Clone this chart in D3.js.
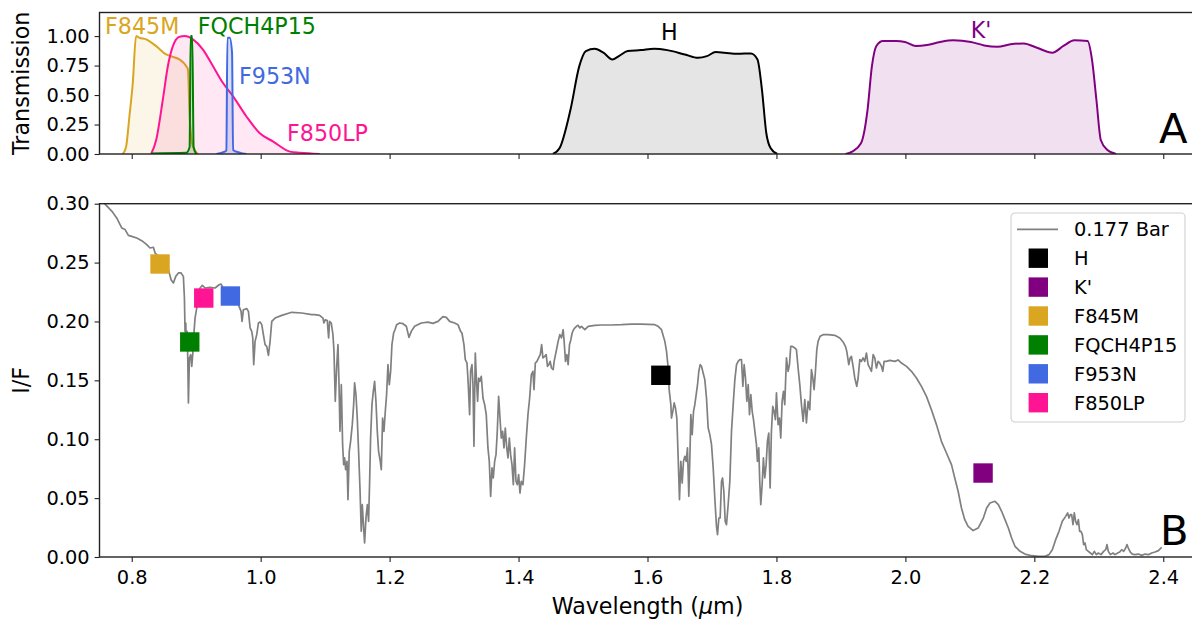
<!DOCTYPE html>
<html>
<head>
<meta charset="utf-8">
<script src="https://cdn.jsdelivr.net/npm/d3@7"></script>
<style>
  body { margin: 0; background: #fff; }
  svg { display: block; font-family: "DejaVu Sans", sans-serif; }
</style>
</head>
<body>
<svg id="chart"></svg>
<script>
// ---- data ----
const xTicks = [0.8, 1.0, 1.2, 1.4, 1.6, 1.8, 2.0, 2.2, 2.4];
const topTicks = [0, 0.25, 0.5, 0.75, 1.0];
const botTicks = [0, 0.05, 0.10, 0.15, 0.20, 0.25, 0.30];

const filterNames = ["H", "K'", "F845M", "FQCH4P15", "F953N", "F850LP"];
const filterColors = ["black", "purple", "goldenrod", "green", "royalblue", "deeppink"];

// filter transmission curves [wavelength, transmission]
const curveF845M = [[0.786,0],[0.7912,0.06],[0.7964,0.32],[0.8016,0.6],[0.8067,1.0],[0.8119,0.986],[0.8223,0.972],
  [0.8379,0.915],[0.8534,0.844],[0.8638,0.824],[0.8742,0.801],[0.8846,0.744],[0.8872,0.716],[0.8898,0.318],
  [0.8949,0.062],[0.9027,0]];
const curveF850LP = [[0.8301,0],[0.8379,0.119],[0.8482,0.46],[0.856,0.744],[0.8638,0.915],[0.8742,0.995],
  [0.882,1.0],[0.8949,0.972],[0.9105,0.886],[0.9261,0.744],[0.9416,0.602],[0.9572,0.489],[0.978,0.318],
  [0.9987,0.176],[1.0195,0.105],[1.0454,0.02],[1.061,0.01],[1.0921,0]];
const curveFQCH4P15 = [[0.83,0.005],[0.8846,0.01],[0.8898,0.06],[0.8913,1.0],[0.8939,1.0],[0.896,0.06],[0.9001,0]];
const curveF953N = [[0.9313,0],[0.9442,0.02],[0.9468,0.03],[0.9484,0.986],[0.952,0.986],[0.9556,0.858],
  [0.9572,0.034],[0.9676,0.011],[0.978,0]];
const curveH = [[1.4532,0],[1.4635,0.048],[1.4805,0.375],[1.4942,0.745],[1.5044,0.873],[1.5181,0.893],
  [1.5317,0.859],[1.5454,0.802],[1.5556,0.83],[1.5693,0.873],[1.5898,0.881],[1.6102,0.893],[1.6307,0.881],
  [1.658,0.844],[1.6785,0.816],[1.6922,0.83],[1.7058,0.864],[1.7195,0.859],[1.74,0.85],[1.7604,0.853],
  [1.7706,0.802],[1.7775,0.546],[1.7843,0.176],[1.7911,0.048],[1.8014,0]];
const curveK = [[1.9072,0],[1.9174,0.02],[1.9311,0.091],[1.9413,0.375],[1.9481,0.745],[1.955,0.916],
  [1.9652,0.958],[1.9857,0.958],[1.9993,0.95],[2.0164,0.916],[2.0334,0.924],[2.0539,0.95],[2.0744,0.964],
  [2.1017,0.95],[2.1222,0.921],[2.1427,0.91],[2.1631,0.93],[2.1836,0.938],[2.2041,0.901],[2.228,0.859],
  [2.2451,0.916],[2.2621,0.964],[2.2826,0.958],[2.2894,0.802],[2.2963,0.46],[2.3031,0.119],[2.3133,0.034],[2.327,0]];

// label positions (wavelength, transmission) for the filter names in panel A
const labelWave = [1.6337, 2.1174, 0.7586, 0.9024, 0.9664, 1.0409];
const labelTrans = [0.966, 0.983, 1.017, 1.017, 0.593, 0.113];
const labelAnchor = ["middle", "middle", "start", "start", "start", "start"];

// reflectance spectrum at 0.177 bar [wavelength, I/F]
const spectrum = [[0.750,0.3035],[0.7586,0.2997],[0.769,0.2937],[0.7767,0.2879],[0.7819,0.2822],[0.7845,0.2794],
  [0.7897,0.278],[0.7948,0.2731],[0.8,0.2723],[0.8078,0.2709],[0.8155,0.2686],[0.8233,0.2652],[0.8284,0.2624],
  [0.8336,0.263],[0.8362,0.2581],[0.8414,0.2553],[0.8491,0.2496],[0.8569,0.244],[0.861,0.2355],[0.8646,0.2327],
  [0.8683,0.2383],[0.8724,0.2412],[0.8765,0.2412],[0.8801,0.2383],[0.8817,0.2199],[0.8827,0.1916],[0.8838,0.1987],
  [0.8848,0.1775],[0.8858,0.1916],[0.8869,0.169],[0.8879,0.1308],[0.8895,0.169],[0.8915,0.1718],[0.8931,0.1619],
  [0.8946,0.1718],[0.8967,0.1916],[0.8982,0.2029],[0.9008,0.2114],[0.9034,0.2242],[0.906,0.2284],[0.9096,0.2307],
  [0.9138,0.2284],[0.9215,0.229],[0.9293,0.2284],[0.9355,0.2312],[0.9386,0.2318],[0.9412,0.229],[0.9474,0.2284],
  [0.9603,0.2228],[0.9665,0.2128],[0.9696,0.2086],[0.9711,0.2001],[0.9732,0.21],[0.9784,0.2109],[0.981,0.2086],
  [0.9836,0.1945],[0.9861,0.1916],[0.9877,0.186],[0.9892,0.1633],[0.9913,0.1831],[0.9939,0.1888],[0.9965,0.1987],
  [0.9991,0.1995],[1.0017,0.1973],[1.0042,0.1888],[1.0068,0.1803],[1.0094,0.1789],[1.012,0.1712],[1.0146,0.1831],
  [1.0172,0.2001],[1.0223,0.2029],[1.0327,0.2052],[1.0482,0.2078],[1.0637,0.2072],[1.0792,0.2058],
  [1.0837,0.2058],[1.0914,0.2052],[1.0966,0.2029],[1.0981,0.1987],[1.1002,0.2015],[1.1033,0.2007],[1.1054,0.186],
  [1.1069,0.2001],[1.1095,0.1987],[1.1121,0.1888],[1.1137,0.1746],[1.1157,0.1322],[1.1178,0.1605],[1.1199,0.1803],
  [1.1214,0.1492],[1.123,0.1067],[1.1251,0.1463],[1.1271,0.0954],[1.1287,0.0784],[1.1302,0.0841],[1.1318,0.0742],
  [1.1339,0.0812],[1.1354,0.0487],[1.1374,0.0897],[1.1395,0.0982],[1.1421,0.1124],[1.1442,0.1294],[1.1457,0.1478],
  [1.1478,0.1378],[1.1498,0.118],[1.1519,0.0897],[1.154,0.0586],[1.156,0.0218],[1.1576,0.0444],[1.1597,0.0246],
  [1.1612,0.0119],[1.1633,0.0331],[1.1654,0.0444],[1.1674,0.0303],[1.169,0.0643],[1.1705,0.101],[1.1726,0.1294],
  [1.1747,0.1407],[1.1767,0.1492],[1.1788,0.1322],[1.1809,0.1067],[1.1829,0.0897],[1.1855,0.0812],[1.1871,0.0742],
  [1.1891,0.118],[1.1912,0.1067],[1.1933,0.1237],[1.1953,0.1378],[1.1974,0.1633],[1.1995,0.1463],[1.2016,0.1577],
  [1.2036,0.1803],[1.2062,0.1902],[1.2083,0.193],[1.2109,0.1973],[1.2155,0.1987],[1.2207,0.1981],[1.2259,0.1959],
  [1.23,0.1865],[1.2336,0.1916],[1.2388,0.1959],[1.2491,0.1987],[1.2595,0.1995],[1.2672,0.1984],[1.275,0.2001],
  [1.2827,0.2041],[1.2879,0.2035],[1.2931,0.2001],[1.3008,0.1987],[1.306,0.1973],[1.3101,0.1916],[1.3122,0.1902],
  [1.3153,0.1803],[1.3174,0.1676],[1.32,0.1647],[1.322,0.1463],[1.3241,0.1209],[1.3256,0.1577],[1.3277,0.1633],
  [1.3293,0.1463],[1.3308,0.094],[1.3329,0.1732],[1.3344,0.1534],[1.3365,0.1322],[1.3381,0.152],[1.3401,0.1492],
  [1.3422,0.1534],[1.3448,0.135],[1.3474,0.1294],[1.3499,0.1209],[1.3525,0.0926],[1.3546,0.0812],[1.3567,0.0515],
  [1.3588,0.0756],[1.3608,0.0671],[1.3629,0.0812],[1.365,0.0869],[1.367,0.1067],[1.3691,0.1364],[1.3712,0.118],
  [1.3732,0.101],[1.3753,0.1067],[1.3774,0.0926],[1.3794,0.1095],[1.3815,0.094],[1.3836,0.0841],[1.3857,0.101],
  [1.3877,0.0869],[1.3898,0.0784],[1.3919,0.0614],[1.3939,0.0926],[1.396,0.0643],[1.3981,0.0614],[1.4001,0.0699],
  [1.4022,0.0543],[1.4042,0.0643],[1.4068,0.0614],[1.4094,0.0784],[1.412,0.101],[1.4146,0.1209],[1.4172,0.135],
  [1.4198,0.1548],[1.4223,0.1577],[1.4239,0.1421],[1.426,0.1647],[1.4285,0.1661],[1.4311,0.169],[1.4337,0.1718],
  [1.4358,0.1803],[1.4378,0.169],[1.4404,0.1704],
  [1.4428,0.1718],[1.4449,0.1619],[1.4469,0.1633],[1.449,0.1661],[1.4511,0.1605],[1.4537,0.1591],[1.4552,0.1661],
  [1.4573,0.1718],[1.4594,0.1775],[1.4614,0.1831],[1.464,0.1888],[1.4666,0.186],[1.4692,0.193],[1.4707,0.1831],
  [1.4728,0.1661],[1.4749,0.1718],[1.4769,0.1633],[1.479,0.1803],[1.4811,0.1845],[1.4831,0.1902],[1.4852,0.193],
  [1.4873,0.1945],[1.4899,0.1959],[1.4924,0.1967],[1.495,0.1945],[1.4976,0.1959],[1.5028,0.193],[1.508,0.1959],
  [1.5183,0.1967],[1.5286,0.197],[1.5442,0.197],[1.5597,0.1973],[1.5752,0.1978],[1.5907,0.1978],[1.6114,0.1973],
  [1.6165,0.1959],[1.6217,0.193],[1.6269,0.1831],[1.6295,0.1746],[1.6321,0.1605],[1.6336,0.1421],[1.6362,0.1294],
  [1.6372,0.118],[1.6393,0.1237],[1.6414,0.1308],[1.6434,0.1265],[1.6455,0.118],[1.6476,0.0841],[1.6496,0.0487],
  [1.6517,0.0812],[1.6538,0.0628],[1.6558,0.0812],[1.6579,0.0855],[1.66,0.0812],[1.662,0.0926],[1.6641,0.0515],
  [1.6657,0.0841],[1.6672,0.1209],[1.6693,0.1039],[1.6714,0.1237],[1.6734,0.1294],[1.6755,0.1378],[1.6776,0.1463],
  [1.6796,0.1577],[1.6817,0.1633],[1.6838,0.1619],[1.6863,0.1562],[1.6889,0.1506],[1.6915,0.135],[1.6941,0.1095],
  [1.6967,0.1039],[1.6993,0.0954],[1.7019,0.0756],[1.7044,0.0501],[1.707,0.026],[1.7086,0.019],[1.7107,0.0331],
  [1.7127,0.0331],[1.7148,0.0643],[1.7164,0.0671],[1.7184,0.0558],[1.7205,0.0303],[1.7225,0.0275],[1.7251,0.0444],
  [1.7277,0.0643],[1.7303,0.1067],[1.7329,0.1294],[1.7355,0.1506],[1.7381,0.1633],[1.7406,0.1661],[1.7432,0.1676],
  [1.7458,0.1676],[1.7479,0.1449],[1.7499,0.1633],[1.752,0.152],[1.7541,0.1322],[1.7562,0.1463],[1.7582,0.1209],
  [1.7603,0.1378],[1.7624,0.1237],[1.7644,0.1166],
  [1.769,0.0954],[1.7705,0.0812],[1.7726,0.0926],[1.7741,0.0643],[1.7757,0.0444],[1.7778,0.0614],[1.7798,0.0841],
  [1.7819,0.0671],[1.784,0.0784],[1.786,0.0982],[1.7881,0.1053],[1.7902,0.0586],[1.7922,0.1067],[1.7943,0.1279],
  [1.7964,0.1237],[1.7984,0.1166],[1.8,0.1393],[1.8026,0.1124],[1.8047,0.118],[1.8067,0.101],[1.8088,0.1322],
  [1.8109,0.1407],[1.8129,0.1294],[1.8155,0.169],[1.8181,0.1577],[1.8202,0.1633],[1.8222,0.1789],[1.8243,0.1789],
  [1.8284,0.1775],[1.831,0.1761],[1.8336,0.1605],[1.8362,0.1463],[1.8388,0.1294],[1.8414,0.1152],[1.844,0.1336],
  [1.8465,0.1138],[1.8491,0.1322],[1.8517,0.1251],[1.8543,0.1591],[1.8564,0.152],[1.8584,0.1421],[1.8605,0.1577],
  [1.8626,0.1761],[1.8646,0.1831],[1.8677,0.1874],[1.8724,0.1888],[1.8801,0.1888],[1.8905,0.1882],[1.8982,0.186],
  [1.9034,0.1826],[1.907,0.1789],[1.9091,0.1746],[1.9122,0.1633],[1.9143,0.169],[1.9163,0.1704],[1.9189,0.1619],
  [1.9215,0.152],[1.9246,0.1449],[1.9267,0.152],[1.9293,0.1676],[1.9318,0.1661],[1.9344,0.169],[1.937,0.1661],
  [1.9396,0.1732],[1.9422,0.1633],[1.9448,0.1605],[1.9474,0.1577],[1.95,0.1718],[1.9525,0.169],[1.9551,0.1605],
  [1.9577,0.1661],[1.9603,0.1647],[1.9629,0.1619],[1.9649,0.1577],[1.967,0.1661],[1.9706,0.1661],[1.9758,0.167],
  [1.9836,0.1661],[1.9887,0.1673],[1.9939,0.1647],[2.0017,0.1619],[2.0094,0.1577],[2.0172,0.152],[2.0249,0.1449],
  [2.0327,0.1364],[2.0404,0.1251],[2.0482,0.1124],[2.0559,0.0982],[2.0637,0.0883],[2.0715,0.0784],[2.0766,0.0671],
  [2.0818,0.0558],[2.087,0.0416],[2.0921,0.0317],[2.0973,0.026],[2.1051,0.0224],[2.1128,0.0246],
  [2.1209,0.0331],[2.1261,0.0416],[2.1312,0.0459],[2.139,0.0473],[2.1442,0.0444],[2.1493,0.0388],[2.1545,0.0317],
  [2.1597,0.0246],[2.1648,0.0161],[2.17,0.0091],[2.1778,0.0048],[2.1855,0.0025],[2.1959,0.0011],[2.2062,0.0006],
  [2.2165,0.0006],[2.2228,0.002],[2.2279,0.0062],[2.2331,0.0147],[2.2383,0.0218],[2.2434,0.0303],[2.2486,0.0345],
  [2.2517,0.0374],[2.2538,0.0331],[2.2558,0.0359],[2.2579,0.0359],[2.26,0.0275],[2.262,0.0374],[2.2641,0.0303],
  [2.2662,0.0275],[2.2683,0.0317],[2.2703,0.0218],[2.2724,0.0218],[2.2745,0.019],[2.2765,0.0105],[2.2786,0.0119],
  [2.2807,0.0062],[2.2838,0.0048],[2.2869,0.0034],[2.29,0.002],[2.2931,0.0048],[2.2962,0.002],[2.2993,0.0034],
  [2.3034,0.002],[2.3075,0.0048],[2.3107,0.0062],[2.3127,0.0105],[2.3148,0.0048],[2.3179,0.002],[2.322,0.0034],
  [2.3251,0.002],[2.3293,0.0034],[2.3324,0.0042],[2.3355,0.0062],[2.3386,0.0048],[2.3417,0.0076],[2.3437,0.0105],
  [2.3458,0.0076],[2.3489,0.0042],[2.352,0.0025],[2.3562,0.002],[2.3613,0.0025],[2.3665,0.0014],[2.3717,0.0025],
  [2.3769,0.002],[2.382,0.0034],[2.3872,0.0042],[2.3924,0.0054],[2.3975,0.0082]];

// filter-averaged I/F markers (same order as filterNames)
const markerWave = [1.6207, 2.1205, 0.8439, 0.8900, 0.9530, 0.9117];
const markerIF = [0.1543, 0.0713, 0.2488, 0.1826, 0.2216, 0.2199];

// ---- layout ----
const width = 1192, height = 623;
const tickFont = 19.4, labelFont = 22.2;

const svg = d3.select('#chart')
    .attr('width', width)
    .attr('height', height);

const x = d3.scaleLinear().domain([0.75, 2.45]).range([99.5, 1195.5]);
const yTop = d3.scaleLinear().domain([0, 1.2]).range([154, 12.5]);
const yBot = d3.scaleLinear().domain([0, 0.3]).range([557, 203.7]);

const defs = svg.append('defs');
defs.append('clipPath').attr('id', 'clipTop').append('rect')
    .attr('x', x(0.75)).attr('y', yTop(1.2))
    .attr('width', x(2.45) - x(0.75)).attr('height', yTop(0) - yTop(1.2));
defs.append('clipPath').attr('id', 'clipBot').append('rect')
    .attr('x', x(0.75)).attr('y', yBot(0.3))
    .attr('width', x(2.45) - x(0.75)).attr('height', yBot(0) - yBot(0.3));

function styleAxis(g) {
    g.select('.domain').remove();
    g.selectAll('.tick line').attr('stroke', '#222').attr('stroke-width', 1.1);
    g.selectAll('.tick text')
        .attr('fill', '#000')
        .attr('font-size', tickFont)
        .attr('font-family', '"DejaVu Sans", sans-serif');
}

// ---- panel A: filter transmissions ----
const topCurves = [
    { data: curveF845M, color: 'goldenrod', alpha: 0.1 },
    { data: curveF850LP, color: 'deeppink', alpha: 0.1 },
    { data: curveFQCH4P15, color: 'green', alpha: 0.15 },
    { data: curveF953N, color: 'royalblue', alpha: 0.2 },
    { data: curveH, color: 'black', alpha: 0.1 },
    { data: curveK, color: 'purple', alpha: 0.12 }
];

const panelA = svg.append('g').attr('clip-path', 'url(#clipTop)');
const area = d3.area().x(d => x(d[0])).y0(yTop(0)).y1(d => yTop(d[1])).curve(d3.curveMonotoneX);
const line = d3.line().x(d => x(d[0])).y(d => yTop(d[1])).curve(d3.curveMonotoneX);

topCurves.forEach(c => {
    panelA.append('path')
        .attr('d', area(c.data))
        .attr('fill', c.color)
        .attr('fill-opacity', c.alpha);
    panelA.append('path')
        .attr('d', line(c.data))
        .attr('fill', 'none')
        .attr('stroke', c.color)
        .attr('stroke-width', 2);
});

filterNames.forEach((name, i) => {
    svg.append('text')
        .attr('x', x(labelWave[i]))
        .attr('y', yTop(labelTrans[i]))
        .attr('text-anchor', labelAnchor[i])
        .attr('font-size', labelFont)
        .attr('fill', filterColors[i])
        .text(name);
});

svg.append('g')
    .attr('transform', `translate(0, ${yTop(0)})`)
    .call(d3.axisBottom(x).tickValues(xTicks).tickFormat('').tickSize(4.9))
    .call(styleAxis);

svg.append('g')
    .attr('transform', `translate(${x(0.75)}, 0)`)
    .call(d3.axisLeft(yTop).tickValues(topTicks).tickFormat(d3.format('.2f')).tickSize(4.9).tickPadding(5))
    .call(styleAxis);

svg.append('rect')
    .attr('x', x(0.75)).attr('y', yTop(1.2))
    .attr('width', x(2.45) - x(0.75)).attr('height', yTop(0) - yTop(1.2))
    .attr('fill', 'none').attr('stroke', '#222').attr('stroke-width', 1.4);

svg.append('text')
    .attr('transform', `translate(29, ${(yTop(0) + yTop(1.2)) / 2}) rotate(-90)`)
    .attr('text-anchor', 'middle')
    .attr('font-size', labelFont)
    .text('Transmission');

svg.append('text')
    .attr('x', x(2.3933)).attr('y', yTop(0.093))
    .attr('font-size', 41.7)
    .text('A');

// ---- panel B: spectrum ----
const panelB = svg.append('g').attr('clip-path', 'url(#clipBot)');
panelB.append('path')
    .attr('d', d3.line().x(d => x(d[0])).y(d => yBot(d[1]))(spectrum))
    .attr('fill', 'none')
    .attr('stroke', 'gray')
    .attr('stroke-width', 1.7)
    .attr('stroke-linejoin', 'round');

const ms = 19.4;
svg.append('g').selectAll('rect')
    .data(markerWave)
    .join('rect')
    .attr('x', (d, i) => x(d) - ms / 2)
    .attr('y', (d, i) => yBot(markerIF[i]) - ms / 2)
    .attr('width', ms).attr('height', ms)
    .attr('fill', (d, i) => filterColors[i]);

svg.append('g')
    .attr('transform', `translate(0, ${yBot(0)})`)
    .call(d3.axisBottom(x).tickValues(xTicks).tickFormat(d3.format('.1f')).tickSize(4.9).tickPadding(8))
    .call(styleAxis);

svg.append('g')
    .attr('transform', `translate(${x(0.75)}, 0)`)
    .call(d3.axisLeft(yBot).tickValues(botTicks).tickFormat(d3.format('.2f')).tickSize(4.9).tickPadding(5))
    .call(styleAxis);

svg.append('rect')
    .attr('x', x(0.75)).attr('y', yBot(0.3))
    .attr('width', x(2.45) - x(0.75)).attr('height', yBot(0) - yBot(0.3))
    .attr('fill', 'none').attr('stroke', '#222').attr('stroke-width', 1.4);

svg.append('text')
    .attr('transform', `translate(29, ${(yBot(0) + yBot(0.3)) / 2}) rotate(-90)`)
    .attr('text-anchor', 'middle')
    .attr('font-size', labelFont)
    .text('I/F');

const xlab = svg.append('text')
    .attr('x', (x(0.75) + x(2.45)) / 2)
    .attr('y', 614)
    .attr('text-anchor', 'middle')
    .attr('font-size', labelFont);
xlab.append('tspan').text('Wavelength (');
xlab.append('tspan').attr('font-style', 'italic').text('\u03BC');
xlab.append('tspan').text('m)');

svg.append('text')
    .attr('x', x(2.3948)).attr('y', yBot(0.0102))
    .attr('font-size', 41.7)
    .text('B');

// ---- legend ----
const legend = svg.append('g').attr('transform', 'translate(1011, 213)');
legend.append('rect')
    .attr('width', 174).attr('height', 209)
    .attr('rx', 4)
    .attr('fill', 'white').attr('fill-opacity', 0.8)
    .attr('stroke', '#d0d0d0').attr('stroke-width', 1.1);

const rowH = 28.9;
legend.append('line')
    .attr('x1', 6).attr('x2', 47).attr('y1', 16.3).attr('y2', 16.3)
    .attr('stroke', 'gray').attr('stroke-width', 1.7);
legend.append('text')
    .attr('x', 63).attr('y', 16.3).attr('dy', '0.36em')
    .attr('font-size', tickFont)
    .text('0.177 Bar');

filterNames.forEach((name, i) => {
    const cy = 16.3 + rowH * (i + 1);
    legend.append('rect')
        .attr('x', 27.3 - ms / 2).attr('y', cy - ms / 2)
        .attr('width', ms).attr('height', ms)
        .attr('fill', filterColors[i]);
    legend.append('text')
        .attr('x', 63).attr('y', cy).attr('dy', '0.36em')
        .attr('font-size', tickFont)
        .text(name);
});
</script>
</body>
</html>
